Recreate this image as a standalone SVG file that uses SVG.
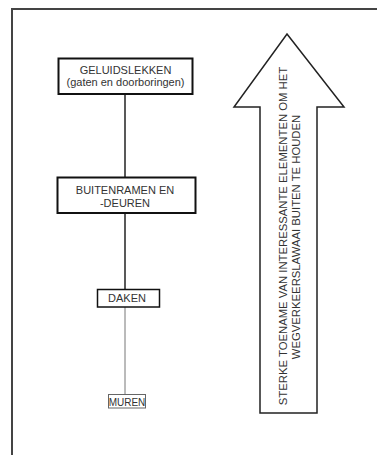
<svg xmlns="http://www.w3.org/2000/svg" width="377" height="455" viewBox="0 0 377 455">
<style>
.t{font-family:"Liberation Sans",Arial,sans-serif;font-size:11px;fill:#333;text-anchor:middle}
.r{font-size:11.3px}
.box{fill:#fff;stroke:#111}
.c{stroke:#222;fill:none}
</style>
<rect width="377" height="455" fill="#fff"/>
<g id="frame">
<path d="M12 455 V9 H377" fill="none" stroke="#444" stroke-width="2"/>
</g>
<g id="connectors">
<line class="c" x1="125" y1="94" x2="125" y2="177" stroke-width="1.5"/>
<line class="c" x1="125" y1="213" x2="125" y2="289" stroke-width="1.5"/>
<line x1="125" y1="307" x2="125" y2="394" stroke="#777" stroke-width="1"/>
</g>
<g id="geluidslekken">
<rect class="box" x="58.5" y="58.5" width="134" height="35.5" stroke-width="2"/>
<text class="t" x="125.5" y="74">GELUIDSLEKKEN</text>
<text class="t" x="125.5" y="86">(gaten en doorboringen)</text>
</g>
<g id="buitenramen">
<rect class="box" x="57.5" y="177.5" width="138" height="35.5" stroke-width="2"/>
<text class="t" x="125" y="194">BUITENRAMEN EN</text>
<text class="t" x="125" y="207">-DEUREN</text>
</g>
<g id="daken">
<rect class="box" x="97.5" y="289.5" width="62" height="17.5" stroke-width="1.5"/>
<text class="t" x="127" y="302">DAKEN</text>
</g>
<g id="muren">
<rect x="108.5" y="394.5" width="37" height="13.5" fill="#fff" stroke="#666" stroke-width="1"/>
<text class="t" x="127" y="406" style="font-size:10px">MUREN</text>
</g>
<g id="arrow">
<polygon points="287,34 344,107 317,107 317,413 260,413 260,107 234,107" fill="#fff" stroke="#222" stroke-width="1.5"/>
<text class="t r" transform="translate(287,236) rotate(-90)">STERKE TOENAME VAN INTERESSANTE ELEMENTEN OM HET</text>
<text class="t r" transform="translate(300,237) rotate(-90)">WEGVERKEERSLAWAAI BUITEN TE HOUDEN</text>
</g>
</svg>
